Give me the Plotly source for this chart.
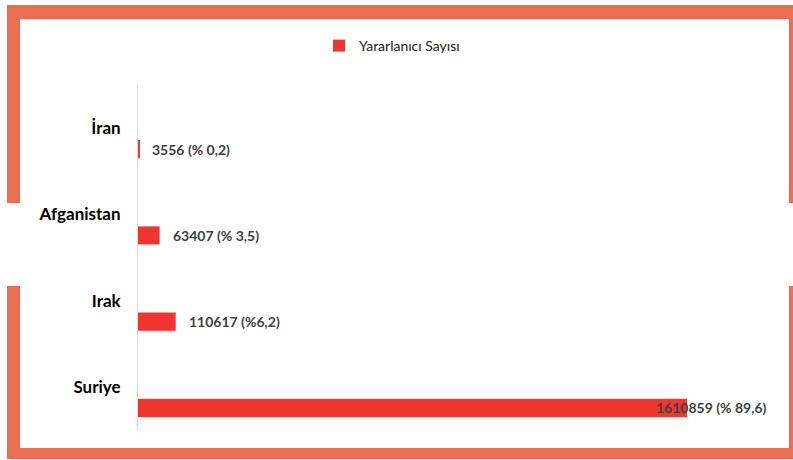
import plotly.graph_objects as go

# ---- data ----
categories = ["Suriye", "Irak", "Afganistan", "İran"]
values = [1610859, 110617, 63407, 3556]
value_labels = ["1610859 (% 89,6)", "110617 (%6,2)", "63407 (% 3,5)", "3556 (% 0,2)"]
series_name = "Yararlanıcı Sayısı"

# ---- layout geometry ----
W, H = 793, 460
L, R, T, B = 138, 24, 85, 30
PW, PH = W - L - R, H - T - B
XMAX = 1851400

BAR = "#EE3530"
BORDER = "#EA6E51"
LABEL = "#404040"
FONT = "Lato"


def px(x):
    return (x - L) / PW


def py(y):
    return (H - B - y) / PH


fig = go.Figure(
    go.Bar(
        y=categories,
        x=values,
        orientation="h",
        marker=dict(color=BAR, line=dict(width=0)),
        width=0.209,
        offset=-0.348,
        name=series_name,
        showlegend=True,
    )
)

annotations = []
for cat, val, lab in zip(categories, values, value_labels):
    overflow = val > 0.8 * XMAX
    annotations.append(
        dict(
            x=XMAX if overflow else val,
            y=cat,
            xref="x",
            yref="y",
            text=lab,
            showarrow=False,
            xanchor="right" if overflow else "left",
            xshift=0 if overflow else 11,
            yshift=-21,
            font=dict(family=FONT, size=14, color=LABEL, weight=700),
        )
    )

shapes = []


def rect(x0, y0, x1, y1):
    shapes.append(
        dict(
            type="rect",
            xref="paper",
            yref="paper",
            x0=px(x0),
            x1=px(x1),
            y0=py(y1),
            y1=py(y0),
            fillcolor=BORDER,
            line=dict(width=0),
            layer="above",
        )
    )


rect(7, 5, 793, 19)      # top
rect(7, 448, 793, 459)   # bottom
rect(7, 5, 20, 203)      # left upper
rect(7, 286, 20, 459)    # left lower
rect(789, 5, 793, 203)   # right upper
rect(789, 286, 793, 459) # right lower

fig.update_layout(
    width=W,
    height=H,
    margin=dict(l=L, r=R, t=T, b=B, pad=0),
    paper_bgcolor="white",
    plot_bgcolor="white",
    showlegend=True,
    legend=dict(
        orientation="h",
        x=px(392),
        xanchor="center",
        yref="container",
        y=1 - 46 / H,
        yanchor="middle",
        font=dict(family=FONT, size=14, color="#222222"),
        itemwidth=30,
    ),
    xaxis=dict(
        range=[0, XMAX],
        visible=False,
        showgrid=False,
        zeroline=False,
    ),
    yaxis=dict(
        categoryorder="array",
        categoryarray=categories,
        range=[-0.5, 3.5],
        showline=True,
        linecolor="#D9D9D9",
        linewidth=1,
        showgrid=False,
        zeroline=False,
        ticks="",
        ticklabelstandoff=13,
        tickfont=dict(family=FONT, size=17, color="black", weight=700),
    ),
    annotations=annotations,
    shapes=shapes,
)

fig.write_html(
    "out.html",
    config={"displayModeBar": False},
    post_script="document.body.style.margin='0';document.body.style.padding='0';",
)
